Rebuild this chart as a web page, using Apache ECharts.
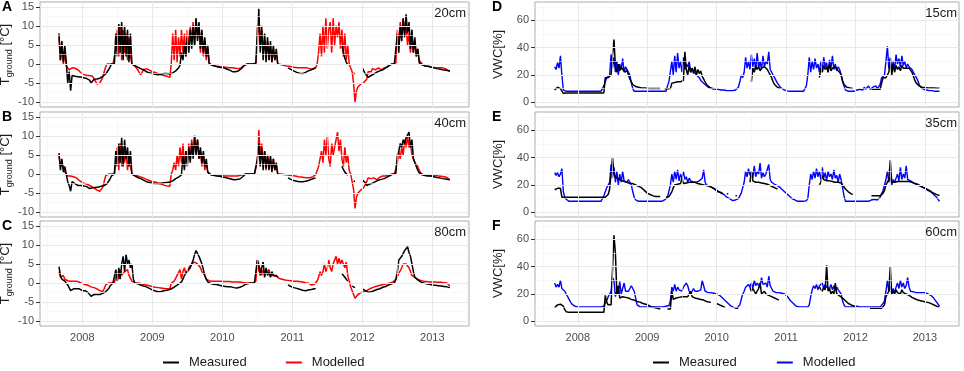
<!DOCTYPE html>
<html><head><meta charset="utf-8">
<script src="https://cdn.jsdelivr.net/npm/echarts@6/dist/echarts.min.js"></script>
<style>html,body{margin:0;padding:0;background:#fff}#c{width:964px;height:371px}</style>
</head><body><div id="c"></div>
<script>
// sampling grid: weekly-ish (1/48 year) starting Sept 2007
const START = 2007.667, STEP = 1 / 48;
const yearTicks = [2008, 2009, 2010, 2011, 2012, 2013];
const yearMinor = [2007.5, 2008.5, 2009.5, 2010.5, 2011.5, 2012.5, 2013.5];
const tTicks = [-10, -5, 0, 5, 10, 15];
const tMinor = [-7.5, -2.5, 2.5, 7.5, 12.5];
const vTicks = [0, 20, 40, 60];
const vMinor = [10, 30, 50, 70];
const depthsT = ['20cm', '40cm', '80cm'];
const depthsV = ['15cm', '35cm', '60cm'];
const letters = ['A', 'B', 'C', 'D', 'E', 'F'];

// ---- Ground temperature, 20 cm (A)
const aM = [
8,1,6,0.5,5,0.5,-5,-2,-7,-3,-3,-3.2,
-3.2,-3.3,-3.5,-3.4,-3.5,-3.6,-3.5,-3.8,-4,-4.2,-5,-4.5,
-4,-3.8,-3.9,-3.8,-3.7,-3.5,-3.2,-3,-2.6,-2.2,-1.5,-0.8,
0,0,0.1,8,2,10.5,3,11,1,10,2,9,
0.5,8,0,-0.2,-0.4,-0.6,-0.8,-1,-1.2,-1.3,-1.5,-1.8,
-2,-2.2,-2.3,-2.4,-2.5,-2.6,-2.7,-2.8,-2.8,-2.7,-2.6,-2.5,
-2.5,-2.4,-2.5,-2.6,-2.6,-2.5,-2.3,-2,-1.8,-1.5,-1,-0.3,
3,1,5,2,7,3,9,4,10,5,12,6,
11,4,9,3,7,2,5,0.2,0,-0.3,-0.5,-0.5,
-0.7,-0.8,-0.8,-0.9,-1,-1,-1.2,-1.3,-1.5,-1.6,-1.8,-2,
-1.9,-2,-2.1,-1.8,-1.5,-1.2,-1,-0.4,0,0,0,0,
0.1,0,0,0.2,9,14.5,3,10,1,8,0.5,7,
1,6,0.5,5,1,4,0,null,null,null,null,null,
null,-1,-1.2,-1.4,-1.6,-1.8,-2,-2.2,-2.3,-2.4,-2.5,-2.5,
-2.3,-2.2,-2,-1.8,-1.6,-1.5,-1.3,-1.1,-1,null,null,null,
null,null,null,null,null,null,null,null,null,null,null,null,
null,null,5,3,1.5,0.5,-0.3,null,null,null,-2.3,-2.6,
null,null,null,null,-1,-1.8,-2.5,-3,-3.5,-3.3,-3,-2.8,
-2.6,-2.3,-2.1,-2,-1.8,-1.6,-1.5,-1.2,-1,-0.8,-0.5,-0.2,
0,0,0.1,0,8,3,10,6,12,7,13,8,
11,4,9,3,7,2,4,0.3,0,-0.2,-0.4,-0.5,
-0.5,-0.6,-0.7,-0.8,-1,-1,-1.1,-1.2,-1.3,-1.3,-1.4,-1.5,
-1.5,-1.6,-1.7,-1.7,-1.8];
const aR = [
7,1,5,0,3,-0.5,-1,-1.5,-1,-1,-1,-1.1,
-1.2,-1.5,-2,-2.3,-2.5,-2.7,-2.9,-3,-3,-3,-3.1,-3.2,
-3.6,-4.5,-5.2,-5.2,-5,-4.5,-3.5,-2,-0.8,0,0,0,
0,0,0.2,4,9,2,10,1,9,3,8,1,
7,2,0,-0.3,-0.5,-0.8,-1.5,-2.2,-2.8,-3,-1.5,-1,
-1.2,-1.4,-1.6,-1.8,-2,-2.1,-2.2,-2.4,-2.5,-2.6,-2.8,-2.9,
-3,-3.1,-3.2,-3.4,-3.5,0,8,1,9,0.5,7,2,
9,3,8,2,9,4,10,6,11,5,12,7,
10,3,8,2,6,1,4,0,-0.2,-0.3,-0.4,-0.5,
-0.5,-0.6,-0.7,-0.8,-0.8,-0.8,-0.9,-0.9,-1,-1,-1,-1,
-1,-1.1,-1.1,-1.2,-1.2,-1,-0.8,-0.3,0,0,0,0,
0,0,0,0.2,5,12,5,9,3,7,2,6,
1,5,0.5,4,1,3,0,0,-0.1,-0.2,-0.3,-0.4,
-0.5,-0.5,-0.6,-0.7,-0.8,-0.8,-0.9,-0.9,-1,-1,-1,-1,
-1,-1,-1,-1.1,-1.2,-1.3,-1.4,-1.5,-1,0,3,8,
2,10,3,12,4,9,11,3,12,5,10,7,
11,4,9,2,8,1,5,0,-0.5,-2,-5,-10,
-7,-6,-5.5,-5.2,-5,-4.8,-4.3,-4,-2,-1.5,-2,-1.2,
-1,-1.5,-1.2,-1,-1.3,-1.5,-1.2,-1,-1,-0.8,-0.5,-0.2,
0,0,0,0.3,9,5,11,7,12,8,10,5,
8,3,7,3,6,2,4,1,0.5,0,-0.3,-0.5,
-0.5,-0.6,-0.7,-0.8,-0.8,-0.9,-0.9,-1,-1,-1,-1,-1,
-1.1,-1.2,-1.5,-1.8,-2];

// ---- Ground temperature, 40 cm (B)
const bM = [
5.5,1,4,0.5,2,0,-2,-3,-4.5,-2,-2.2,-2.5,
-2.7,-3,-3,-3,-3,-3.1,-3.2,-3.3,-3.5,-3.8,-4,-3.6,
-3.5,-3.5,-3.5,-3.4,-3.3,-3.2,-3.1,-3,-2.8,-2.5,-2,-1.3,
-0.5,0,0,6,2,8,3,9.5,2,9,4,7,
2,6,0,-0.3,-0.5,-0.7,-0.9,-1,-1.2,-1.4,-1.6,-1.8,
-2,-2.1,-2.2,-2.3,-2.4,-2.5,-2.5,-2.5,-2.5,-2.4,-2.4,-2.3,
-2.3,-2.3,-2.2,-2.2,-2.1,-2,-1.8,-1.5,-1.2,-1,-0.8,-0.5,
-0.2,5,1,6,2,7,3,8,4,10,5,9,
4,7,3,6,2,4,0.5,0,-0.2,-0.3,-0.3,-0.4,
-0.5,-0.5,-0.6,-0.7,-0.8,-0.8,-0.9,-1,-1.1,-1.2,-1.3,-1.4,
-1.5,-1.5,-1.4,-1.5,-1.3,-1,-0.7,-0.3,0,0,0,0,
0,0,0,0.2,4,8,2,7,1,6,1.5,5,
1,5,0.5,4,1,3,0,null,null,null,null,null,
null,-1,-1.2,-1.4,-1.5,-1.7,-1.8,-1.9,-2,-2,-2.1,-2,
-2,-1.9,-1.8,-1.7,-1.5,-1.4,-1.3,-1.1,-1,null,null,null,
null,null,null,null,null,null,null,null,null,null,null,null,
null,null,2,1.2,0.5,0,-0.3,null,null,null,-1.8,-2,
null,null,null,null,-1.5,-1.8,-2.3,-3,-2.8,-2.6,-2.5,-2.4,
-2.2,-2,-1.8,-1.6,-1.5,-1.4,-1.3,-1.2,-1,-0.8,-0.6,-0.4,
-0.2,0,0,0.2,5,6,8,7,9,8,9.5,10,
11,7,9,4,3,2,1,0.3,0,-0.2,-0.3,-0.4,
-0.5,-0.5,-0.5,-0.5,-0.6,-0.7,-0.8,-0.9,-1,-1,-1.1,-1.2,
-1.3,-1.3,-1.4,-1.4,-1.5];
const bR = [
5,2,3,2.5,0.5,0,-0.5,-0.5,-0.5,-0.5,-0.7,-0.8,
-1,-1.3,-1.7,-2,-2.2,-2.4,-2.5,-2.7,-2.8,-3,-3.2,-3.4,
-3.6,-3.8,-4.2,-4.5,-4.5,-4.2,-3.5,-2,-0.5,0,0,0,
0,0,0.2,3,7,1,8,2,7,3,6,1,
5,2,0,-0.2,-0.3,-0.4,-0.5,-0.6,-0.8,-0.9,-1,-1.2,
-1.4,-1.5,-1.7,-1.8,-2,-2,-2.1,-2.2,-2.4,-2.5,-2.6,-2.8,
-2.9,-3,-3.1,-3.2,-3.2,0,1,3,1,5,2,7,
3,8,2,6,3,8,4,9,5,10,6,9,
4,6,2,5,1,3,0.5,0,-0.1,-0.2,-0.3,-0.3,
-0.3,-0.4,-0.4,-0.4,-0.4,-0.5,-0.5,-0.5,-0.5,-0.5,-0.5,-0.5,
-0.5,-0.5,-0.5,-0.4,-0.4,-0.3,-0.2,-0.1,0,0,0,0,
0,0,0,0.2,3,11.5,5,8,2,6,1,5,
2,4,1,4,1,2,0,0,0,-0.1,-0.1,-0.2,
-0.2,-0.3,-0.3,-0.4,-0.4,-0.5,-0.5,-0.6,-0.7,-0.8,-0.8,-0.9,
-0.9,-1,-1,-1,-1,-0.9,-0.7,-0.5,-0.2,0,2,4,
6,3,9,5,10,4,2,8,5,7,9,11,
6,9,4,2,7,3,5,1,0,-2,-4,-9,
-6,-5,-4.5,-4.2,-4,-3.5,-3,-2,-1,-1.5,-1.2,-1.5,
-1,-1.3,-1.5,-1,-0.8,-0.6,-0.5,-0.5,-0.5,-0.4,-0.3,-0.2,
0,0,0,0.5,3,6,4,7,5,9,7,10,
7,8,5,4,3,2.5,2,1,0.3,0,-0.2,-0.3,
-0.4,-0.4,-0.4,-0.3,-0.3,-0.3,-0.4,-0.4,-0.5,-0.5,-0.6,-0.6,
-0.7,-0.8,-0.9,-1.1,-1.5];

// ---- Ground temperature, 80 cm (C)
const cM = [
4.3,2,1,1.5,0.5,0,-0.5,-1,-2,-1.8,-1.5,-1.4,
-1.5,-1.6,-1.5,-1.7,-2,-2,-2,-2.2,-2.5,-3,-3.5,-3.2,
-3,-3,-3,-3,-3,-2.9,-2.7,-2.5,-2.3,-2,-1.5,-0.8,
-0.3,0,0,3.5,0.5,4,1,5,7,3,7.5,5,
6,4,5,1,0,-0.1,-0.2,-0.4,-0.5,-0.6,-0.8,-0.9,
-1,-1.2,-1.4,-1.6,-1.8,-2,-2.1,-2.2,-2.3,-2.3,-2.2,-2.1,
-2,-2,-1.9,-1.8,-1.7,-1.5,-1.3,-1,-0.8,-0.5,-0.3,-0.1,
0.3,1,2,2.5,3,3.5,4,5,6,7.5,8.5,8,
7,6,5,3.5,2,1,0.3,0,-0.1,-0.2,-0.3,-0.3,
-0.4,-0.5,-0.6,-0.7,-0.8,-0.8,-0.9,-1,-1,-1,-1,-1.1,
-1.2,-1.3,-1.3,-1.2,-1.1,-1,-0.8,-0.5,-0.3,-0.2,-0.1,0,
0,0,0,0.5,6,5,2,4,5.5,1.5,4,2,
3,1.5,3,2,2.5,2,1.5,null,null,null,null,null,
null,-0.5,-0.7,-0.9,-1,-1.2,-1.3,-1.4,-1.5,-1.6,-1.8,-1.9,
-2,-2,-1.9,-1.8,-1.8,-1.7,-1.6,-1.5,-1.5,null,null,null,
null,null,null,null,null,null,null,null,null,null,null,null,
null,null,2.5,2,1.5,1,0.5,null,null,-0.8,-1,-1.2,
null,null,null,null,-1.5,-1.7,-2,-2.2,-2.4,-2.5,-2.3,-2.1,
-2,-1.8,-1.7,-1.6,-1.5,-1.3,-1.1,-1,-0.9,-0.7,-0.5,-0.3,
-0.2,0,0,1,3,6,6.5,7,7.5,8.5,9,9.5,
8,7,5,3,1.5,1,0.8,0.5,0.3,0,0,-0.1,
-0.2,-0.3,-0.3,-0.4,-0.5,-0.5,-0.6,-0.7,-0.7,-0.8,-0.8,-0.9,
-0.9,-1,-1,-1.1,-1.2];
const cR = [
3,1.5,2,2,1,0.8,0.6,0.5,0.5,0.5,0.5,0.5,
0.5,0.4,0.2,0,-0.1,-0.2,-0.4,-0.5,-0.6,-0.8,-1,-1,
-1.2,-1.3,-1.5,-1.8,-2,-2.1,-2.2,-1.5,-0.5,0,0,0,
0,0,0.2,1.5,3,1,3.5,2,1.5,3,2.5,3.5,
2,1.5,0.5,0.3,0.1,0,0,0,-0.1,-0.2,-0.3,-0.4,
-0.5,-0.6,-0.7,-0.8,-0.9,-1,-1.1,-1.2,-1.2,-1.3,-1.3,-1.4,
-1.4,-1.4,-1.5,-1.5,-1.5,0,0.5,0.5,1,2,2.5,3.5,
1,3,4,2.5,3,4,3.5,5,4.5,5.5,6,5,
4.5,4,3,3.5,2,1,0.8,0.6,0.5,0.5,0.5,0.5,
0.5,0.5,0.5,0.5,0.5,0.4,0.4,0.4,0.4,0.4,0.3,0.3,
0.3,0.3,0.3,0.3,0.3,0.2,0.2,0.1,0,0,0,0,
0,0,0.1,0.5,6,3,4,2,3.5,2,3,2.5,
3.5,2,2.5,2,2,1.8,1.5,1.2,1,1,0.9,0.8,
0.8,0.7,0.7,0.6,0.6,0.5,0.5,0.5,0.4,0.4,0.3,0.3,
0.2,0.1,0,0,-0.3,-0.5,-0.5,-0.3,0,0.5,1.5,3,
2,3,5,3,4,6,4,3,5,6,7,5,
6.5,5,6,5,4,5.5,2,0.5,-1,-2,-3,-4,
-3.5,-3,-2.7,-2.5,-2.4,-2.2,-2,-2,-1.8,-1.5,-1.3,-1.2,
-1,-0.9,-0.8,-0.7,-0.5,-0.5,-0.4,-0.3,-0.3,-0.2,-0.1,0,
0,0.3,0.5,1,1.5,2.5,3,4,5,5.5,5,5.5,
4,3,2,1.5,1.5,1.2,1,0.8,0.7,0.6,0.5,0.5,
0.4,0.4,0.3,0.3,0.3,0.3,0.3,0.2,0.2,0.2,0.2,0.2,
0.1,0.1,0,-0.3,-0.8];

// ---- Volumetric water content, 15 cm (D)
const dM = [
9,10,11,11,10,9,6.5,6.8,6.8,6.8,6.8,6.8,
6.8,6.8,6.8,6.8,6.8,6.8,6.8,6.8,6.8,6.8,6.8,6.8,
6.8,6.8,6.8,6.8,6.8,6.8,6.8,6.8,6.8,6.8,6.8,18,
18,18,18,20,35,46,26,22,28,23,26,24,
25,22,24,20,17,15,13,12,11.5,11,11,10.5,
10.5,10.5,10.5,10.5,10.2,10.2,10,10,10,10,10,10,
10,10,null,null,9.8,9.8,9.8,10,10,14,14.5,14.5,
15,15,15,15,15,16,37,24,20,27,22,25,
21,26,20,24,21,23,19,17,15,13,12,11,
10.5,10,10,null,null,null,null,null,null,null,null,null,
null,null,null,null,null,null,null,null,null,null,null,null,
null,null,null,null,15,25,22,27,24,26,23,25,
24,26,25,24,22,20,18,15,13,12,11,10.5,
10,null,null,null,null,null,null,null,null,null,null,null,
null,null,null,null,null,null,null,null,null,null,null,null,
null,null,null,18,25,22,27,24,26,22,28,23,
25,24,26,24,25,22,20,16,13,12,11,10.5,
10.5,10,10,null,null,null,null,null,null,null,null,null,
null,null,null,9.5,9.5,9.5,9.5,9.5,9.5,9.5,10,18,
18,18,19,22,32,20,28,22,27,24,26,23,
27,25,26,25,26,25,24,22,19,16,14,13,
12,11.5,11,11,10.8,10.8,10.5,10.5,10.5,10.5,10.5,10.3,
10.3,10.3,10.3];
const dR = [
26,24,29,25,34,20,9,8,8,8,8,8,
8,8,8,8,8,8,8,8,8,8,8,8,
8,8,8,8,8,8,8,8,8,8,12,15,
18,19,20,35,25,33,22,30,20,28,24,32,
22,26,24,22,20,14,10,8,8,8,8,8,
8,8,8,8,8,8,8,8,8,8,8,8,
8,8,8,8,8,8,12,15,14,30,20,34,
22,36,25,30,22,33,24,28,26,30,22,25,
23,22,20,19,18,16,15,14,13,12,11,10.5,
10,10,10,9.5,10,9.5,10,9,9.5,9,9,8.5,
9,8.5,9,8.5,8.5,9,10,11,15,20,18,22,
33,25,30,24,35,26,32,24,36,25,30,24,
34,26,30,28,37,24,22,20,18,16,14,12.5,
11,10,9.5,9,8.5,8,8,8,8,8,8,8,
8,8,8,8,8,8,12,20,33,22,30,24,
32,25,28,22,30,24,33,26,29,22,31,25,
34,24,28,23,26,24,20,15,12,9,8,8,
8,8,8,8,8.5,9,8.5,9.5,10,9,11,9.5,
10,12,9.5,10,11,10,12,10,11,13,18,19,
20,30,41,25,33,22,30,24,35,28,32,26,
34,27,30,25,28,26,27,24,22,20,18,16,
13,11,10,9.5,9,9,8.5,8.5,8.5,8.5,8,8,
8,8,8];

// ---- Volumetric water content, 35 cm (E)
const eM = [
16.5,17,17.5,18,17.5,11,11,11,11,11,11,11,
11,11,11,11,11,11,11,11,11,11,11,11,
11,11,11,11,11,11,11,11,11,11,11,11,
11,13,17,17.5,40,28,26,25,24.5,24,23.5,23,
22.5,22,22,21.5,21,21,21,20.5,20,19.5,19,18.5,
18,17,16,15,14,13.5,13,12.5,12,12,11.5,11.5,
11.5,11.5,null,null,null,11,11,11.5,12,15,18,20,
20,20.5,21,21,25,21,21,21.5,21,22,21.5,22,
21.5,22,21.5,21,21,20.5,20.5,20,20,19.5,19,19,
18.5,18,17.5,16.5,16,15,15,14.5,14,null,null,13.5,
13.5,null,null,null,null,12,12,null,null,null,null,null,
null,null,null,22,30,23,22.5,22,22,22,21.5,21.5,
21,21,21,20.5,20,19.5,19,18.5,18,17.5,17,null,
null,null,null,null,null,null,null,null,null,null,null,null,
null,null,null,null,null,null,null,null,null,null,null,null,
null,null,null,20,22,27,24,23,23,23.5,23,23,
22.5,22.5,22,22,22,22,21.5,20,18.5,17,16,15,
14,13.5,13,null,null,null,null,null,null,null,null,null,
null,null,null,12,12,12,12,12,12,12,12.5,14,
16,20,22,24,38,22,21,22,22,22.5,23,22.5,
23,22.5,23,22.5,23,22.5,22,22,21.5,21,20.5,20,
19.5,19,18.5,18,17.5,17,16.5,16,15,14.5,14,13.5,
13,12.5,12.5];
const eR = [
29,27,29,26,28,32,15,11,9.5,8.5,8,8,
8,8,8,8,8,8,8,8,8,8,8,8,
8,8,8,8,8,8,8,8,8,10,12,15,
18,20,22,35,25,33,22,30,20,28,22,30,
23,24,22,24,25,20,15,11,9,8,8,8,
8,8,8,8,8,8,8,8,8,8,8,8,
8,8,8,8,9,10,11,12,20,28,22,30,
24,31,23,28,25,30,24,26,22,25,23,24,
22,23,22,22,23,24,25,31,22,20,19.5,19,
18.5,18,17.5,17,16,15.5,15,14,13.5,13,12,11,
10.5,10,9,8.5,8,9,10,10,11,14,18,22,
30,26,32,27,30,25,34,26,30,28,36,25,
29,26,28,27,35,24,22,21,20.5,20,19.5,19,
18,17,16,15,14,13,12,11,10,9.5,9,8.5,
8,8,8,8,8,8,8.5,10,20,28,24,30,
25,32,26,30,24,33,25,29,23,30,26,28,
24,31,25,27,22,28,24,18,12,8,8,8,
8,8,8,8,8,8,8,8,8,8,8,8,
8,8,8.5,9,8.5,9.5,10,9,10,11,12,16,
20,24,30,22,26,20,24,22,25,28,23,33,
24,28,25,34,24,25,23,22,21.5,21,21,20.5,
20,19,18.5,18,17.5,17,16,15.5,15,14,13,12,
11,10,8];

// ---- Volumetric water content, 60 cm (F)
const fM = [
10,11,12,12.5,12.5,12,11,8.5,7,6.5,6.5,6.5,
6.5,6.5,6.5,6.5,6.5,6.5,6.5,6.5,6.5,6.5,6.5,6.5,
6.5,6.5,6.5,6.5,6.5,6.5,6.5,6.5,6.5,6.5,6.5,19,
14,12,12,12,12.5,63,50,20,26,17,18,18,
18,17.5,17,17,16.5,16,16,15.5,15,14.5,14.5,14,
13.5,13,13,12.5,12,11.5,11,10.5,10,10,9.5,9.5,
9,9,null,null,null,null,9,9,9,22,16,17,
17,17.5,17.5,18,18,18,18,18,18,17.5,22,18,
17.5,17,17,16.5,16.5,16,16,15.5,15,14.5,14.5,14,
14,null,null,null,13,12.5,12,11.5,11,10.5,10,null,
null,null,null,null,null,9.5,9.5,9.5,null,null,null,null,
null,null,null,25,22,24,22,20,21,24,28,20,
21,22,20,20,19,18.5,18,17.5,17,16.5,16,15.5,
null,null,null,null,null,null,null,null,null,null,null,null,
null,null,null,null,null,null,null,null,null,null,null,null,
null,null,null,25,24,22,25,23,41,22,24,20,
22,20,28,20,19,18.5,18,17,16,15,14,13,
12.5,12,11.5,11,11,null,null,null,null,null,null,null,
null,null,9.5,9.5,9.5,9.5,9.5,9.5,9.5,9.5,9.5,9.5,
12,18,20,22,40,20,22,20,23,21,22,20,
23,21,22,20,21,19,18,17.5,17,16.5,16,15.5,
15.5,15,15,14.5,14.5,14,14,13.5,13,12.5,12,11.5,
11,10.5,10.5];
const fR = [
28,25,27,25,30,24,23,22,20,18,16,14,
12.5,11.5,11,10.5,10.5,10.5,10.5,10.5,10.5,10.5,10.5,10.5,
10.5,10.5,10.5,10.5,10.5,10.5,10.5,10.5,10.5,10.5,11,12,
15,18,20,22,32,30,18,22,20,29,20,24,
28,22,23,22,24,26,24,22,17,12,11,10.5,
10.5,10.5,10.5,10.5,10.5,10.5,10.5,10.5,10.5,10.5,10.5,10.5,
10.5,10.5,10.5,10.5,10.5,11,11,11.5,15,25,22,27,
22,25,23,24,22,25,24,28,26,22,20,21,
24,22,22,22,22,23,30,26,22,21.5,21,21,
21,20.5,20.5,20,20,19.5,19,18,17,16,15,14,
13,12,11,10.5,10,10,9.5,10,12,16,20,22,
25,24,27,25,28,24,30,26,28,27,25,32,
27,26,28,25,33,26,24,22,21.5,21,21,21,
21,20.5,20.5,20,19,18,16.5,15,14,13,12,11,
10.5,10.5,10.5,10.5,10.5,10.5,10.5,10.5,12,18,23,26,
24,27,23,26,25,28,24,27,25,26,24,27,
23,26,22,25,23,24,20,15,12,10.5,10.5,10.5,
10.5,10.5,10.5,10.5,10.5,11,10.5,10.5,11,10.5,10.5,10.5,
10.5,10.5,11,10.5,10.5,10.5,11,10.5,10.5,10.5,10.5,13,
15,22,30,22,26,20,24,21,25,28,24,30,
25,28,24,26,32,25,22,22,21.5,21,21,21,
21,21,21,21,21,20.5,20,19.5,19,18,17,15.5,
14,12.5,11];

// ------------------------------------------------------------------
const FONT = "'Liberation Sans', Arial, Helvetica, sans-serif";
const toPairs = arr => arr.map((v, i) => [START + i * STEP, v]);

const panels = [
  { meas: aM, mod: aR, kind: 'T', col: 0, row: 0, depth: depthsT[0] },
  { meas: bM, mod: bR, kind: 'T', col: 0, row: 1, depth: depthsT[1] },
  { meas: cM, mod: cR, kind: 'T', col: 0, row: 2, depth: depthsT[2] },
  { meas: dM, mod: dR, kind: 'V', col: 1, row: 0, depth: depthsV[0] },
  { meas: eM, mod: eR, kind: 'V', col: 1, row: 1, depth: depthsV[1] },
  { meas: fM, mod: fR, kind: 'V', col: 1, row: 2, depth: depthsV[2] }
];
const colLeft = [40, 535], colWidth = [429, 424];
const rowTop = [2, 112, 221], rowH = 105;
const xRange = [[2007.396, 2013.524], [2007.384, 2013.49]];

const grid = [], xAxis = [], yAxis = [], series = [], title = [];
panels.forEach((p, k) => {
  const isT = p.kind === 'T';
  grid.push({ left: colLeft[p.col], top: rowTop[p.row], width: colWidth[p.col], height: rowH,
    show: true, backgroundColor: '#fff', borderColor: '#ababab', borderWidth: 1, containLabel: false, outerBoundsMode: 'none' });
  const bottom = p.row === 2;
  xAxis.push({ type: 'value', gridIndex: k, min: xRange[p.col][0], max: xRange[p.col][1],
    axisLine: { show: false },
    axisTick: { show: true, customValues: yearTicks, length: 4, lineStyle: { color: '#333', width: 1 } },
    axisLabel: { show: bottom, customValues: yearTicks, fontSize: 11, color: '#4d4d4d', margin: 6, fontFamily: FONT, formatter: v => String(v) },
    splitLine: { show: false } });
  const ticks = isT ? tTicks : vTicks;
  const yObj = { type: 'value', gridIndex: k, min: isT ? -11.25 : -3.5, max: isT ? 16.25 : 73.5,
    axisLine: { show: false },
    axisTick: { show: true, customValues: ticks, length: 4, lineStyle: { color: '#333', width: 1 } },
    axisLabel: { show: true, customValues: ticks, fontSize: 11, color: '#4d4d4d', margin: 6, fontFamily: FONT, formatter: v => String(v) },
    splitLine: { show: false },
    nameLocation: 'middle' };
  if (isT) {
    yObj.name = '{t|T}{s|ground}{t| [°C]}';
    yObj.nameGap = 21;
    yObj.nameTextStyle = { color: '#1a1a1a', fontFamily: FONT, rich: {
      t: { fontSize: 13, lineHeight: 18, color: '#1a1a1a', fontFamily: FONT },
      s: { fontSize: 9, lineHeight: 9, verticalAlign: 'bottom', color: '#1a1a1a', fontFamily: FONT } } };
  } else {
    yObj.name = 'VWC[%]';
    yObj.nameGap = 30;
    yObj.nameTextStyle = { fontSize: 13, color: '#1a1a1a', fontFamily: FONT };
  }
  yAxis.push(yObj);

  // grid lines (minor + major) drawn under the data
  const minorX = yearMinor, minorY = isT ? tMinor : vMinor;
  const ml = [];
  minorX.forEach(v => ml.push({ xAxis: v, lineStyle: { color: '#f4f4f4', width: 0.6, type: 'solid' } }));
  minorY.forEach(v => ml.push({ yAxis: v, lineStyle: { color: '#f4f4f4', width: 0.6, type: 'solid' } }));
  yearTicks.forEach(v => ml.push({ xAxis: v, lineStyle: { color: '#e8e8e8', width: 1, type: 'solid' } }));
  ticks.forEach(v => ml.push({ yAxis: v, lineStyle: { color: '#e8e8e8', width: 1, type: 'solid' } }));
  series.push({ type: 'line', name: 'grid' + k, xAxisIndex: k, yAxisIndex: k, data: [], z: 1, silent: true,
    markLine: { silent: true, symbol: 'none', label: { show: false }, animation: false, data: ml } });

  series.push({ type: 'line', name: isT ? 'Modelled|T' : 'Modelled|V', xAxisIndex: k, yAxisIndex: k,
    data: toPairs(p.mod), showSymbol: false, symbol: 'none', connectNulls: false, z: 2, clip: true,
    color: isT ? '#ff0000' : '#0000ff', lineStyle: { color: isT ? '#ff0000' : '#0000ff', width: isT ? 1.5 : 1.4 } });
  series.push({ type: 'line', name: isT ? 'Measured|T' : 'Measured|V', xAxisIndex: k, yAxisIndex: k,
    data: toPairs(p.meas), showSymbol: false, symbol: 'none', connectNulls: false, z: 3, clip: true,
    color: '#000', lineStyle: { color: '#000', width: 1.5 } });

  // panel letter
  title.push({ text: letters[k], left: p.col === 0 ? 2 : 492, top: rowTop[p.row] - 2, padding: 0,
    textStyle: { fontSize: 14, fontWeight: 'bold', color: '#000', fontFamily: FONT } });
  // depth label
  title.push({ text: p.depth, right: p.col === 0 ? 964 - 466 : 964 - 957, top: rowTop[p.row] + 5, padding: 0,
    textStyle: { fontSize: 13, fontWeight: 'normal', color: '#1a1a1a', fontFamily: FONT } });
});

const legendCommon = { icon: 'rect', itemWidth: 16, itemHeight: 2, top: 356, padding: 0,
  formatter: n => n.split('|')[0],
  textStyle: { fontSize: 13, color: '#1a1a1a', fontFamily: FONT, padding: [0, 0, 0, 5] } };
const legend = [
  Object.assign({}, legendCommon, { left: 163, itemGap: 39, data: ['Measured|T', 'Modelled|T'] }),
  Object.assign({}, legendCommon, { left: 653, itemGap: 40, data: ['Measured|V', 'Modelled|V'] })
];

const chart = echarts.init(document.getElementById('c'), null, { renderer: 'canvas' });
chart.setOption({ animation: false, backgroundColor: '#fff', textStyle: { fontFamily: FONT },
  grid, xAxis, yAxis, series, title, legend });
</script></body></html>
